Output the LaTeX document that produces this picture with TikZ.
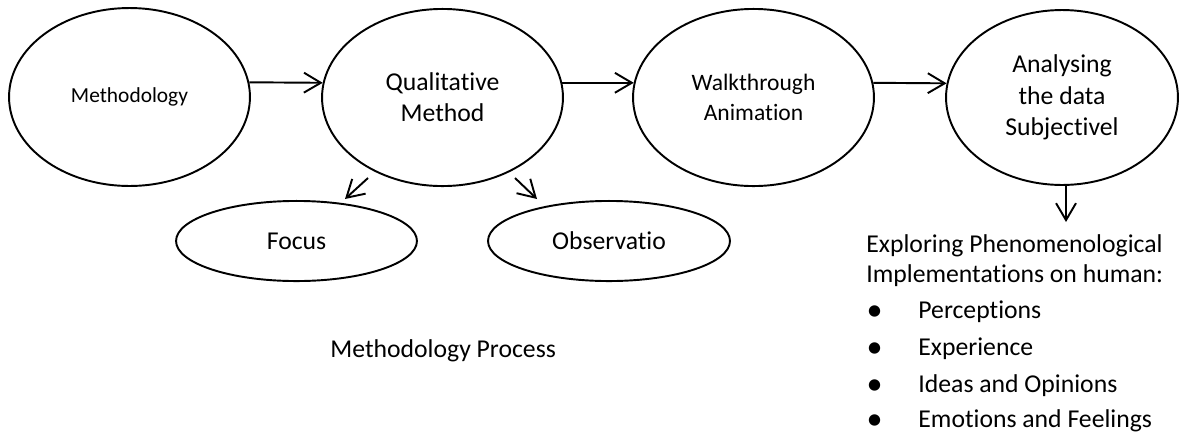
\documentclass[tikz,border=0pt]{standalone}
\usepackage{fontspec}
\setmainfont{Carlito}[Ligatures=NoCommon]
\usetikzlibrary{shapes.geometric,arrows.meta}
\begin{document}
\begin{tikzpicture}[x=0.467pt,y=-0.467pt,
  bub/.style={ellipse,draw,line width=0.9pt,inner sep=0pt,align=center,font=\fontsize{12}{14.6}\selectfont},
  arr/.style={line width=0.9pt,-{Straight Barb[length=7.9pt,width=9.3pt]}},
  txtline/.style={anchor=west,inner sep=0pt,text height=0.75em,text depth=0.25em,font=\fontsize{12}{14}\selectfont},
  dotmark/.style={anchor=center,inner sep=0pt,font=\fontsize{15}{15}\selectfont}]
\useasboundingbox (0,0) rectangle (1181,436);
% main ellipses
\node[bub,minimum width=112.5pt,minimum height=83.1pt,font=\fontsize{10}{12}\selectfont] (m) at (129.5,97) {Methodology};
\node[bub,minimum width=112.5pt,minimum height=82.7pt] (q) at (442.5,97.5) {Qualitative\\Method};
\node[bub,minimum width=112.5pt,minimum height=82.7pt,font=\fontsize{11}{14}\selectfont] (w) at (753.5,97.5) {Walkthrough\\Animation};
\node[bub,minimum width=108.3pt,minimum height=81.7pt] (a) at (1062,97.5) {Analysing\\the data\\Subjectivel};
% lower ellipses
\node[bub,minimum width=112.5pt,minimum height=37.4pt] (f) at (296.5,241) {Focus};
\node[bub,minimum width=113pt,minimum height=37.4pt] (o) at (609,241) {Observatio};
% connectors
\draw[arr] (m.7) -- (q.173);
\draw[arr] (q.7) -- (w.173);
\draw[arr] (w.7) -- (a.173);
\coordinate (qf1) at (368,178);
\coordinate (qf2) at (345,199);
\coordinate (qo1) at (515,178);
\coordinate (qo2) at (537,199);
\draw[arr] (qf1) -- (qf2);
\draw[arr] (qo1) -- (qo2);
\coordinate (dn) at (1066,222);
\draw[arr] (a.south -| dn) -- (dn);
% caption
\node[txtline] (cap) at (330,352) {Methodology Process};
% text block
\node[txtline] (t1) at (866,247) {Exploring Phenomenological};
\node[txtline] (t2) at (866,277) {Implementations on human:};
\node[dotmark] (d1) at (874.5,313) {•};
\node[dotmark] (d2) at (874.5,350) {•};
\node[dotmark] (d3) at (874.5,387) {•};
\node[dotmark] (d4) at (874.5,422) {•};
\node[txtline] (b1) at (918,313) {Perceptions};
\node[txtline] (b2) at (918,350) {Experience};
\node[txtline] (b3) at (918,387) {Ideas and Opinions};
\node[txtline] (b4) at (918,422) {Emotions and Feelings};
\end{tikzpicture}
\end{document}
